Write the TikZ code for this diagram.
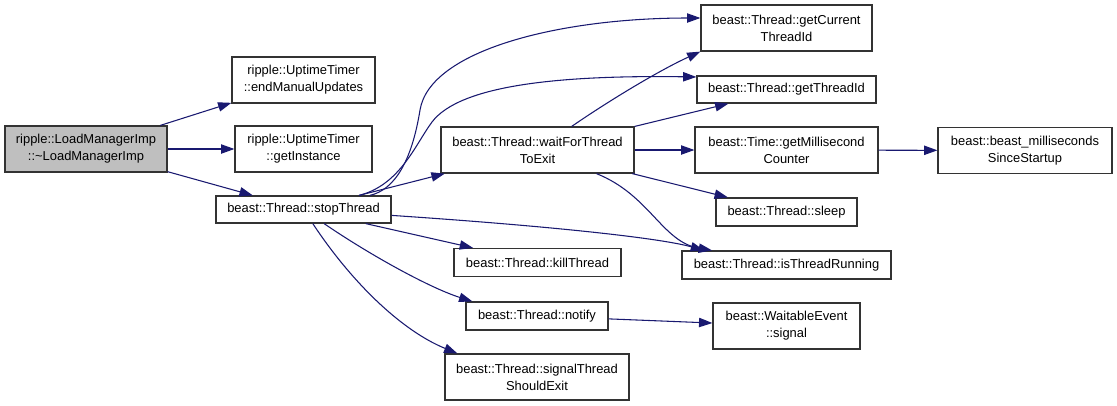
\documentclass[tikz,border=0pt]{standalone}
\usepackage{fontspec}
\setmainfont{Liberation Sans}
\usetikzlibrary{arrows.meta}
\definecolor{callblue}{HTML}{191970}
\definecolor{boxgray}{HTML}{BFBFBF}

\begin{document}
\begin{tikzpicture}[x=0.75pt, y=-0.75pt,
    box/.style={draw=black!80, line width=0.9pt, inner sep=0pt, align=center,
      font=\fontsize{9.7}{12.75}\selectfont},
    call/.style={draw=callblue, line width=0.8pt,
      -{Triangle[length=10pt,width=7pt]}, callblue},
  ]
  \useasboundingbox (0,0) rectangle (1117,405);

  % Draw functions first
  \node[box, fill=boxgray, minimum width=121.5pt, minimum height=34.5pt] (root) at (86,149)
    {ripple::LoadManagerImp\\::\textasciitilde LoadManagerImp};
  \node[box, minimum width=107.25pt, minimum height=34.5pt] (endmu) at (303.5,80)
    {ripple::UptimeTimer\\::endManualUpdates};
  \node[box, minimum width=102.75pt, minimum height=34.5pt] (inst) at (303.5,149)
    {ripple::UptimeTimer\\::getInstance};
  \node[box, minimum width=131.25pt, minimum height=20.25pt] (stop) at (303.5,209.5)
    {beast::Thread::stopThread};
  \node[box, minimum width=144.75pt, minimum height=34.5pt] (wait) at (537.5,150)
    {beast::Thread::waitForThread\\ToExit};
  \node[box, minimum width=125.25pt, minimum height=21pt] (kill) at (537.5,262.5)
    {beast::Thread::killThread};
  \node[box, minimum width=106.5pt, minimum height=21pt] (notify) at (537,316)
    {beast::Thread::notify};
  \node[box, minimum width=138pt, minimum height=34.5pt] (sigexit) at (537,377)
    {beast::Thread::signalThread\\ShouldExit};
  \node[box, minimum width=128.25pt, minimum height=34.5pt] (curid) at (786.5,28)
    {beast::Thread::getCurrent\\ThreadId};
  \node[box, minimum width=134.25pt, minimum height=20.25pt] (tid) at (786.5,89.5)
    {beast::Thread::getThreadId};
  \node[box, minimum width=137.25pt, minimum height=34.5pt] (msec) at (786.5,150)
    {beast::Time::getMillisecond\\Counter};
  \node[box, minimum width=105.75pt, minimum height=21pt] (sleep) at (786.5,212)
    {beast::Thread::sleep};
  \node[box, minimum width=156.75pt, minimum height=21pt] (running) at (786.5,265)
    {beast::Thread::isThreadRunning};
  \node[box, minimum width=110.25pt, minimum height=34.5pt] (signal) at (786.5,326)
    {beast::WaitableEvent\\::signal};
  \node[box, minimum width=130.5pt, minimum height=34.5pt] (since) at (1025,150.5)
    {beast::beast\_milliseconds\\SinceStartup};

  % Calls from the destructor
  \draw[call] (root) -- (endmu);
  \draw[call] (root) -- (inst);
  \draw[call] (root) -- (stop);

  % Calls from stopThread
  \draw[call] (stop) .. controls (395,190) and (412,160) .. (420,110)
    .. controls (430,50) and (560,18) .. ([yshift=7.5pt]curid.west);
  \draw[call] (stop) .. controls (400,185) and (415,145) .. (432,122)
    .. controls (460,85) and (560,75) .. ([yshift=9.4pt]tid.west);
  \draw[call] (stop) -- (wait);
  \draw[call] (stop) .. controls (550,226) and (660,238) .. ([xshift=17pt]running.north west);
  \draw[call] (stop) -- (kill);
  \draw[call] (stop) .. controls (370,255) and (430,288) .. ([xshift=5.25pt]notify.north west);
  \draw[call] (stop) .. controls (350,280) and (400,330) .. ([xshift=9.75pt]sigexit.north west);

  % Calls from waitForThreadToExit
  \draw[call] (wait) .. controls (610,100) and (660,70) .. (curid.south west);
  \draw[call] (wait) -- (tid);
  \draw[call] (wait) -- (msec);
  \draw[call] (wait) -- (sleep);
  \draw[call] (wait) .. controls (650,195) and (662,242) .. ([xshift=23pt]running.north west);

  % Remaining calls
  \draw[call] (msec) -- (since);
  \draw[call] (notify) -- (signal);
\end{tikzpicture}
\end{document}
